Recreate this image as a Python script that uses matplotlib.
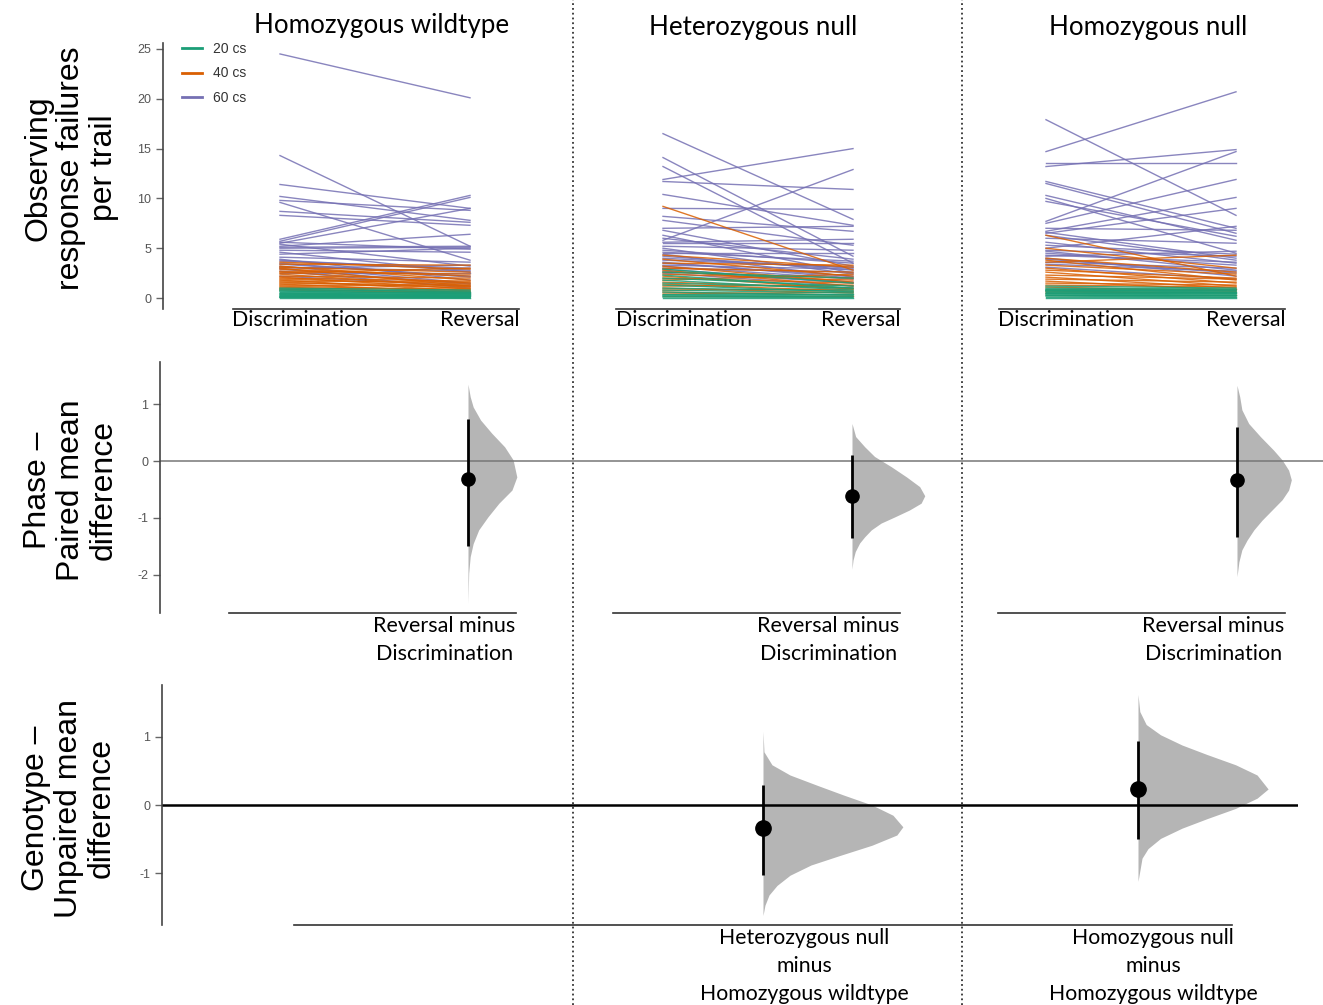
import numpy as np
import matplotlib
matplotlib.use('Agg')
import matplotlib.pyplot as plt
import matplotlib.transforms as mtransforms
from matplotlib.lines import Line2D

plt.rcParams['axes.unicode_minus'] = False

# --- colours (Dark2) ---
C20, C40, C60 = '#1b9e77', '#d95f02', '#7570b3'

# --- top row: observing response failures per trial, Discrimination -> Reversal ---
# Homozygous wildtype
wt_60_disc = [24.5, 14.3, 11.4, 10.2, 9.8, 9.6, 8.7, 8.3, 5.9, 5.7, 5.5, 5.2, 5.0, 4.8, 4.4, 3.8, 3.5, 3.2, 3.0, 2.7, 2.5, 2.2,
              5.6, 5.4, 5.1, 4.6, 4.1, 3.9, 3.7, 3.4, 3.1, 2.9]
wt_60_rev = [20.1, 5.2, 9.0, 7.8, 8.8, 3.8, 7.6, 7.3, 10.3, 10.1, 9.0, 6.4, 5.1, 4.6, 5.0, 2.8, 2.1, 1.5, 3.3, 1.0, 2.5, 1.2,
             4.9, 3.2, 5.2, 2.6, 3.6, 1.8, 3.0, 2.2, 2.7, 1.4]
wt_40_disc = [3.6, 3.4, 3.2, 3.1, 3.0, 2.9, 2.7, 2.6, 2.5, 2.4, 2.2, 2.1, 2.0, 1.9, 1.8, 1.7, 1.6, 1.5, 1.4, 1.3, 1.2, 1.1, 1.0, 0.9, 0.8]
wt_40_rev = [2.9, 3.3, 1.8, 2.6, 1.2, 2.2, 2.4, 1.5, 3.0, 1.1, 2.0, 0.9, 1.7, 1.4, 0.7, 1.6, 1.0, 1.3, 0.6, 1.2, 0.8, 0.5, 0.9, 0.4, 0.6]
wt_20_disc = [1.0, 0.9, 0.8, 0.7, 0.7, 0.6, 0.5, 0.5, 0.4, 0.4, 0.3, 0.3, 0.2, 0.2, 0.1, 0.1, 0.05, 0.0]
wt_20_rev = [0.8, 0.6, 0.7, 0.5, 0.4, 0.6, 0.3, 0.5, 0.2, 0.4, 0.3, 0.1, 0.2, 0.1, 0.15, 0.05, 0.0, 0.0]

# Heterozygous null
het_60_disc = [16.5, 14.1, 13.2, 11.9, 11.7, 10.4, 9.0, 8.2, 7.8, 7.0, 6.8, 6.3, 5.8, 5.5, 5.2, 4.8, 4.5, 4.2, 3.8, 3.5, 3.2, 3.0, 2.7,
               6.0, 5.6, 5.0, 4.6, 4.4, 4.0, 3.6, 3.3, 2.9, 2.5]
het_60_rev = [7.9, 4.2, 3.5, 15.0, 10.9, 7.3, 8.9, 6.7, 5.3, 7.2, 3.2, 2.5, 12.9, 5.5, 4.8, 3.5, 4.5, 2.8, 3.1, 2.2, 1.9, 2.6, 1.5,
              3.9, 5.9, 2.4, 3.7, 2.1, 3.0, 2.0, 2.9, 1.6, 1.2]
het_40_disc = [9.2, 4.3, 3.9, 3.5, 3.2, 3.0, 2.8, 2.6, 2.4, 2.2, 2.0, 1.8, 1.6, 1.4, 1.2, 1.0, 0.8, 0.6, 0.4, 0.2]
het_40_rev = [2.8, 3.1, 2.2, 3.3, 1.6, 2.6, 1.2, 2.0, 1.8, 0.9, 1.5, 2.4, 1.0, 0.7, 1.3, 0.5, 0.9, 0.3, 0.6, 0.2]
het_20_disc = [2.9, 2.6, 2.3, 2.0, 1.8, 1.5, 1.3, 1.0, 0.8, 0.6, 0.4, 0.3, 0.2, 0.1, 0.0]
het_20_rev = [1.5, 2.0, 1.0, 1.2, 0.8, 1.0, 0.6, 0.7, 0.5, 0.3, 0.4, 0.2, 0.1, 0.05, 0.0]

# Homozygous null
ko_60_disc = [17.9, 14.7, 13.6, 13.2, 11.7, 11.5, 10.3, 10.0, 9.7, 7.7, 7.5, 6.7, 6.5, 6.3, 5.0, 4.8, 4.5, 4.2, 3.9, 3.6,
              7.0, 6.6, 6.0, 5.6, 5.3, 4.7, 4.3, 4.0, 3.4, 3.1]
ko_60_rev = [8.3, 20.7, 13.6, 14.9, 7.0, 6.5, 5.8, 4.5, 6.2, 14.7, 11.9, 10.1, 9.0, 3.8, 7.2, 4.2, 3.3, 4.7, 2.5, 3.0,
             6.8, 4.0, 5.5, 3.5, 4.4, 2.8, 3.6, 2.2, 2.7, 1.9]
ko_40_disc = [6.3, 5.0, 4.0, 3.8, 3.6, 3.3, 3.0, 2.8, 2.6, 2.3, 2.1, 1.9, 1.7, 1.5, 1.3, 1.1, 0.9, 0.7, 0.5, 0.3]
ko_40_rev = [2.2, 3.0, 2.6, 1.8, 4.3, 2.4, 1.5, 2.0, 1.2, 1.9, 1.0, 1.6, 0.8, 1.3, 1.1, 0.7, 0.9, 0.5, 0.6, 0.3]
ko_20_disc = [1.2, 1.0, 0.9, 0.8, 0.8, 0.7, 0.7, 0.6, 0.5, 0.5, 0.4, 0.3, 0.3, 0.2, 0.1, 0.0]
ko_20_rev = [1.0, 0.9, 0.8, 0.7, 0.6, 0.8, 0.5, 0.6, 0.4, 0.5, 0.3, 0.3, 0.2, 0.1, 0.1, 0.0]

genotypes = ['Homozygous wildtype', 'Heterozygous null', 'Homozygous null']

# --- middle row: paired mean difference (Reversal minus Discrimination) ---
paired_mean = [-0.31, -0.61, -0.33]
paired_ci_lo = [-1.49, -1.35, -1.33]
paired_ci_hi = [0.74, 0.10, 0.59]
# bootstrap distribution outlines (y value, relative density)
paired_kde_y = [
    [1.35, 1.13, 0.95, 0.72, 0.49, 0.25, 0.02, -0.28, -0.51, -0.74, -0.98, -1.21, -1.45, -1.68, -1.97, -2.50],
    [0.66, 0.43, 0.25, 0.08, -0.10, -0.28, -0.45, -0.61, -0.74, -0.86, -0.98, -1.09, -1.21, -1.33, -1.44, -1.59, -1.74, -1.90],
    [1.33, 1.13, 0.90, 0.66, 0.43, 0.19, 0.02, -0.16, -0.33, -0.51, -0.68, -0.86, -1.04, -1.21, -1.39, -1.56, -1.77, -2.03],
]
paired_kde_d = [
    [0, .045, .106, .258, .485, .75, .924, 1, .9, .634, .409, .219, .106, .045, .014, 0],
    [0, .05, .175, .31, .54, .75, .93, 1, .95, .79, .59, .40, .265, .175, .105, .045, .014, 0],
    [0, .05, .09, .215, .43, .675, .83, .95, 1, .95, .83, .645, .46, .31, .185, .09, .035, 0],
]

# --- bottom row: unpaired mean difference vs wildtype ---
unpaired_mean = [-0.33, 0.235]
unpaired_ci_lo = [-1.03, -0.50]
unpaired_ci_hi = [0.30, 0.94]
unpaired_kde_y = [
    [1.08, 0.78, 0.59, 0.44, 0.29, 0.15, 0.0, -0.15, -0.32, -0.44, -0.59, -0.74, -0.88, -1.03, -1.18, -1.32, -1.47, -1.62],
    [1.62, 1.37, 1.18, 1.03, 0.88, 0.74, 0.59, 0.44, 0.235, 0.10, -0.05, -0.20, -0.34, -0.49, -0.64, -0.78, -1.12],
]
unpaired_kde_d = [
    [0, .007, .064, .193, .386, .571, .779, .929, 1, .957, .779, .55, .343, .193, .1, .043, .014, 0],
    [0, .014, .063, .173, .338, .531, .75, .915, 1, .915, .75, .531, .338, .173, .077, .031, 0],
]
unpaired_labels = ['Heterozygous null\nminus\nHomozygous wildtype',
                   'Homozygous null\nminus\nHomozygous wildtype']

# ------------------------------------------------------------------
W, H = 1323, 1005
fig = plt.figure(figsize=(W / 100, H / 100), dpi=100)
LBL = 'Lato'
TCK = 'Liberation Sans'


def box(x0, y0, x1, y1):
    return fig.add_axes([x0 / W, 1 - y1 / H, (x1 - x0) / W, (y1 - y0) / H])


def clean(ax, left=True):
    ax.spines['top'].set_visible(False)
    ax.spines['right'].set_visible(False)
    ax.spines['left'].set_visible(left)
    ax.set_xticks([])
    ax.patch.set_alpha(0)
    if left:
        ax.spines['left'].set_color('#444')
        ax.spines['left'].set_linewidth(1.2)
        ax.tick_params(axis='y', labelsize=9, colors='#666', labelcolor='#555', length=5, width=1)
        for t in ax.get_yticklabels():
            t.set_family(TCK)
    else:
        ax.set_yticks([])
    ax.spines['bottom'].set_color('#333')
    ax.spines['bottom'].set_linewidth(1.2)


# top row
top_data = [
    [(wt_60_disc, wt_60_rev, C60), (wt_40_disc, wt_40_rev, C40), (wt_20_disc, wt_20_rev, C20)],
    [(het_60_disc, het_60_rev, C60), (het_40_disc, het_40_rev, C40), (het_20_disc, het_20_rev, C20)],
    [(ko_60_disc, ko_60_rev, C60), (ko_40_disc, ko_40_rev, C40), (ko_20_disc, ko_20_rev, C20)],
]
top_boxes = [(163, 43, 519, 309), (614, 43, 900, 309), (998, 43, 1285, 309)]
top_x0 = [280, 663, 1046]
title_pos = [(382, 26), (753, 28), (1148, 28)]
S = 190.0
for i in range(3):
    b = top_boxes[i]
    ax = box(*b)
    xl = ((b[0] - top_x0[i]) / S, (b[2] - top_x0[i]) / S)
    for disc, rev, c in top_data[i]:
        for d, r in zip(disc, rev):
            ax.plot([0, 1], [d, r], color=c, lw=1.0, alpha=0.85)
    ax.set_xlim(xl)
    ax.set_ylim(-1.1, 25.6)
    if i == 0:
        ax.set_yticks([0, 5, 10, 15, 20, 25])
    clean(ax, left=(i == 0))
    ax.spines['bottom'].set_bounds(-0.25, xl[1])
    tr = mtransforms.blended_transform_factory(ax.transData, ax.transAxes)
    ax.text(-0.25, -0.004, 'Discrimination', transform=tr, ha='left', va='top', fontsize=15.3, family=LBL)
    ax.text(xl[1], -0.004, 'Reversal', transform=tr, ha='right', va='top', fontsize=15.3, family=LBL)
    fig.text(title_pos[i][0] / W, 1 - title_pos[i][1] / H, genotypes[i], ha='center', va='center',
             fontsize=18.7, family=LBL)
    if i == 0:
        handles = [Line2D([], [], color=c, lw=2) for c in (C20, C40, C60)]
        leg = ax.legend(handles, ['20 cs', '40 cs', '60 cs'], loc='upper left',
                        bbox_to_anchor=(0.035, 1.03), frameon=False, borderpad=0,
                        handlelength=1.4, handletextpad=0.8, labelspacing=0.75,
                        prop={'family': TCK, 'size': 10})
        for t in leg.get_texts():
            t.set_color('#333')

# middle row
mid_boxes = [(160, 362, 573, 613), (573, 362, 962, 613), (962, 362, 1323, 613)]
mid_x1 = [468, 852, 1237]
mid_peak = [0.257, 0.383, 0.286]
for i in range(3):
    b = mid_boxes[i]
    ax = box(*b)
    x0 = mid_x1[i] - S
    xl = ((b[0] - x0) / S, (b[2] - x0) / S)
    yk = np.array(paired_kde_y[i])
    dk = np.array(paired_kde_d[i])
    ax.fill_betweenx(yk, 1, 1 + mid_peak[i] * dk, color='#b5b5b5', lw=0, zorder=1)
    ax.axhline(0, color='#777', lw=1.1, zorder=2)
    ax.vlines(1, paired_ci_lo[i], paired_ci_hi[i], color='k', lw=2.0, zorder=3)
    ax.plot(1, paired_mean[i], 'o', color='k', ms=9.5, zorder=4)
    ax.set_xlim(xl)
    ax.set_ylim(-2.67, 1.74)
    if i == 0:
        ax.set_yticks([-2, -1, 0, 1])
    clean(ax, left=(i == 0))
    ax.spines['bottom'].set_bounds(-0.26, 1.25)
    tr = mtransforms.blended_transform_factory(ax.transData, ax.transAxes)
    ax.text(1.25, -0.012, 'Reversal minus\nDiscrimination', transform=tr, ha='right', va='top',
            multialignment='center', fontsize=15.5, family=LBL, linespacing=1.5)

# bottom row
ax = box(162, 685, 1298, 925)
S2 = 375.0
ax.set_xlim((162 - 388) / S2, (1298 - 388) / S2)
bot_peak = [0.373, 0.347]
for j in range(2):
    xp = j + 1
    yk = np.array(unpaired_kde_y[j])
    dk = np.array(unpaired_kde_d[j])
    ax.fill_betweenx(yk, xp, xp + bot_peak[j] * dk, color='#b5b5b5', lw=0, zorder=1)
    ax.vlines(xp, unpaired_ci_lo[j], unpaired_ci_hi[j], color='k', lw=2.0, zorder=3)
    ax.plot(xp, unpaired_mean[j], 'o', color='k', ms=11, zorder=4)
ax.axhline(0, color='k', lw=1.8, zorder=2)
ax.set_ylim(-1.76, 1.76)
ax.set_yticks([-1, 0, 1])
clean(ax, left=True)
ax.spines['bottom'].set_bounds(-0.25, 2.25)
tr = mtransforms.blended_transform_factory(ax.transData, ax.transAxes)
for xp, lab in zip([1.11, 2.04], unpaired_labels):
    ax.text(xp, -0.012, lab, transform=tr, ha='center', va='top', multialignment='center',
            fontsize=15.3, family=LBL, linespacing=1.5)

# row labels
row_labels = [('Observing\nresponse failures\nper trail', 71, 168),
              ('Phase \u2013\nPaired mean\ndifference', 71, 490),
              ('Genotype \u2013\nUnpaired mean\ndifference', 69, 808)]
for txt, x, y in row_labels:
    fig.text(x / W, 1 - y / H, txt, rotation=90, ha='center', va='center', multialignment='center',
             fontsize=23, family=TCK, linespacing=1.12)

# dotted separators
for xs in (573, 962):
    fig.add_artist(Line2D([xs / W, xs / W], [0, 1], transform=fig.transFigure,
                          ls=':', color='#333', lw=1.3))

fig.savefig('out.png', dpi=100)
